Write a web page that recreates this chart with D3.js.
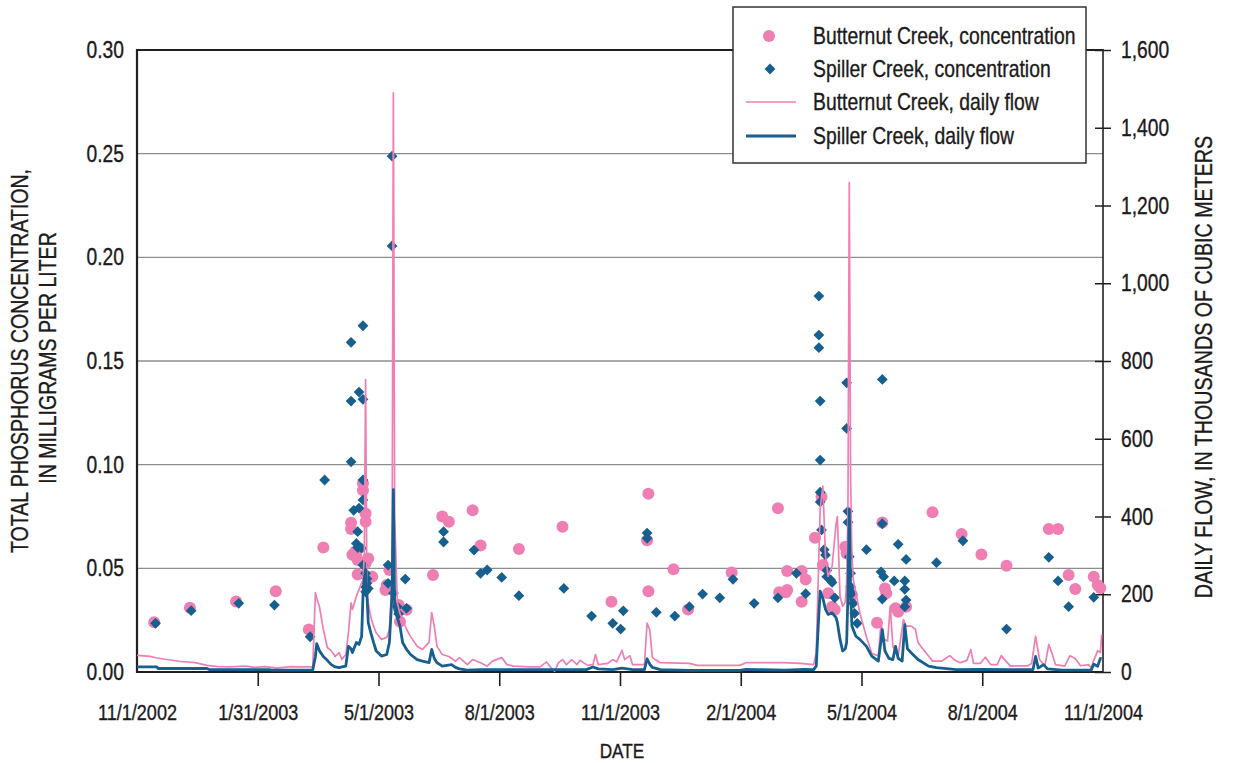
<!DOCTYPE html>
<html>
<head>
<meta charset="utf-8">
<script src="https://cdn.jsdelivr.net/npm/d3@7"></script>
<style>
  html, body { margin: 0; padding: 0; background: #fff; }
  svg { display: block; }
  text { font-family: "Liberation Sans", Arial, sans-serif; fill: #1d1a1b; stroke: #1d1a1b; stroke-width: 0.35px; }
</style>
</head>
<body>
<svg id="chart" width="1235" height="763"></svg>
<script>
// ---- Axis tick labels ----
const xTickLabels = ["11/1/2002", "1/31/2003", "5/1/2003", "8/1/2003", "11/1/2003",
                     "2/1/2004", "5/1/2004", "8/1/2004", "11/1/2004"];
const concTicks = [0, 0.05, 0.10, 0.15, 0.20, 0.25, 0.30];
const flowTicks = [0, 200, 400, 600, 800, 1000, 1200, 1400, 1600];

// ---- Total phosphorus samples, mg/L ----
const butternutConc = [
  ["2002-11-14", 0.024], ["2002-12-11", 0.031], ["2003-01-15", 0.034], ["2003-02-14", 0.039],
  ["2003-03-11", 0.0205], ["2003-03-22", 0.060], ["2003-04-12", 0.072], ["2003-04-12", 0.069],
  ["2003-04-13", 0.0565], ["2003-04-15", 0.058], ["2003-04-16", 0.0556], ["2003-04-17", 0.047],
  ["2003-04-17", 0.054], ["2003-04-21", 0.0877], ["2003-04-21", 0.091], ["2003-04-23", 0.0765],
  ["2003-04-23", 0.0725], ["2003-04-23", 0.0524], ["2003-04-25", 0.0548], ["2003-04-28", 0.046],
  ["2003-05-08", 0.0395], ["2003-05-09", 0.042], ["2003-05-11", 0.0492], ["2003-05-18", 0.0323],
  ["2003-05-19", 0.0243], ["2003-05-24", 0.030], ["2003-06-13", 0.0468], ["2003-06-20", 0.075],
  ["2003-06-25", 0.0725], ["2003-07-13", 0.078], ["2003-07-19", 0.061], ["2003-08-17", 0.0593],
  ["2003-09-19", 0.070], ["2003-10-26", 0.0339], ["2003-11-22", 0.0636], ["2003-11-23", 0.086],
  ["2003-11-23", 0.039], ["2003-12-12", 0.0495], ["2003-12-23", 0.0302], ["2004-01-25", 0.048],
  ["2004-02-29", 0.079], ["2004-03-01", 0.0385], ["2004-03-06", 0.0385], ["2004-03-07", 0.0487],
  ["2004-03-07", 0.0395], ["2004-03-18", 0.0487], ["2004-03-18", 0.0339], ["2004-03-21", 0.0446],
  ["2004-03-28", 0.0647], ["2004-04-02", 0.0845], ["2004-04-03", 0.0516], ["2004-04-07", 0.038],
  ["2004-04-10", 0.0315], ["2004-04-12", 0.030], ["2004-04-20", 0.0604], ["2004-04-21", 0.0572],
  ["2004-04-25", 0.0371], ["2004-05-14", 0.0237], ["2004-05-18", 0.0721], ["2004-05-20", 0.0403],
  ["2004-05-21", 0.038], ["2004-05-28", 0.0307], ["2004-05-30", 0.029], ["2004-06-05", 0.0315],
  ["2004-06-25", 0.077], ["2004-07-17", 0.0665], ["2004-08-01", 0.0567], ["2004-08-20", 0.0512],
  ["2004-09-21", 0.069], ["2004-09-28", 0.069], ["2004-10-06", 0.0468], ["2004-10-11", 0.040],
  ["2004-10-25", 0.046], ["2004-10-28", 0.042], ["2004-10-30", 0.0405]
];

const spillerConc = [
  ["2002-11-15", 0.0235], ["2002-12-12", 0.0296], ["2003-01-17", 0.0331], ["2003-02-13", 0.0323],
  ["2003-03-12", 0.017], ["2003-03-23", 0.0926], ["2003-04-12", 0.159], ["2003-04-12", 0.1307],
  ["2003-04-12", 0.1014], ["2003-04-14", 0.078], ["2003-04-16", 0.062], ["2003-04-17", 0.0677],
  ["2003-04-17", 0.060], ["2003-04-18", 0.135], ["2003-04-18", 0.079], ["2003-04-20", 0.0597],
  ["2003-04-21", 0.167], ["2003-04-21", 0.1315], ["2003-04-21", 0.0926], ["2003-04-21", 0.083],
  ["2003-04-21", 0.0516], ["2003-04-23", 0.0476], ["2003-04-23", 0.0387], ["2003-04-23", 0.041],
  ["2003-04-24", 0.045], ["2003-04-24", 0.0428], ["2003-04-25", 0.0403], ["2003-05-10", 0.0516],
  ["2003-05-10", 0.0428], ["2003-05-13", 0.2488], ["2003-05-13", 0.2055], ["2003-05-14", 0.038],
  ["2003-05-17", 0.0315], ["2003-05-18", 0.028], ["2003-05-23", 0.0448], ["2003-05-24", 0.0307],
  ["2003-06-21", 0.0677], ["2003-06-21", 0.0627], ["2003-07-14", 0.0588], ["2003-07-19", 0.0476],
  ["2003-07-24", 0.0492], ["2003-08-04", 0.0456], ["2003-08-17", 0.0368], ["2003-09-20", 0.0403],
  ["2003-10-11", 0.027], ["2003-10-27", 0.0235], ["2003-11-02", 0.0207], ["2003-11-04", 0.0295],
  ["2003-11-22", 0.067], ["2003-11-22", 0.0645], ["2003-11-29", 0.0288], ["2003-12-13", 0.027],
  ["2003-12-24", 0.0315], ["2004-01-03", 0.0376], ["2004-01-16", 0.0358], ["2004-01-26", 0.0447],
  ["2004-02-11", 0.0331], ["2004-02-29", 0.0358], ["2004-03-14", 0.0476], ["2004-03-21", 0.0378],
  ["2004-03-31", 0.1813], ["2004-03-31", 0.1625], ["2004-03-31", 0.1564], ["2004-04-01", 0.1307],
  ["2004-04-01", 0.1022], ["2004-04-01", 0.0867], ["2004-04-01", 0.082], ["2004-04-02", 0.0685],
  ["2004-04-04", 0.059], ["2004-04-05", 0.0564], ["2004-04-06", 0.049], ["2004-04-06", 0.046],
  ["2004-04-09", 0.0444], ["2004-04-10", 0.0432], ["2004-04-12", 0.0358], ["2004-04-21", 0.1395],
  ["2004-04-21", 0.1175], ["2004-04-22", 0.0775], ["2004-04-22", 0.0722], ["2004-04-23", 0.0556],
  ["2004-04-24", 0.0476], ["2004-04-24", 0.0411], ["2004-04-25", 0.038], ["2004-04-26", 0.0331],
  ["2004-04-27", 0.0283], ["2004-04-29", 0.0235], ["2004-05-06", 0.059], ["2004-05-17", 0.0483],
  ["2004-05-18", 0.1411], ["2004-05-18", 0.0715], ["2004-05-18", 0.0352], ["2004-05-19", 0.046],
  ["2004-05-27", 0.0439], ["2004-05-30", 0.0616], ["2004-06-04", 0.0439], ["2004-06-04", 0.0399],
  ["2004-06-04", 0.0315], ["2004-06-05", 0.0543], ["2004-06-05", 0.0347], ["2004-06-28", 0.0527],
  ["2004-07-18", 0.0633], ["2004-08-20", 0.0207], ["2004-09-21", 0.0553], ["2004-09-28", 0.0439],
  ["2004-10-06", 0.0315], ["2004-10-25", 0.036]
];

// ---- Daily flow, thousands of cubic meters ----
const butternutFlow = [
  ["2002-11-01", 43], ["2002-11-11", 40], ["2002-11-16", 36], ["2002-12-04", 27], ["2002-12-15", 24],
  ["2002-12-24", 17], ["2003-01-01", 14], ["2003-01-10", 13], ["2003-01-22", 15], ["2003-01-29", 12],
  ["2003-02-06", 14], ["2003-02-15", 10], ["2003-02-25", 14], ["2003-03-04", 13], ["2003-03-14", 13],
  ["2003-03-16", 204], ["2003-03-17", 190], ["2003-03-19", 169], ["2003-03-22", 110], ["2003-03-25", 63],
  ["2003-03-28", 55], ["2003-03-31", 40], ["2003-04-03", 50], ["2003-04-05", 32], ["2003-04-08", 45],
  ["2003-04-10", 101], ["2003-04-12", 178], ["2003-04-13", 161], ["2003-04-16", 195], ["2003-04-18", 212],
  ["2003-04-20", 230], ["2003-04-21", 235], ["2003-04-22", 300], ["2003-04-23", 752], ["2003-04-24", 200],
  ["2003-04-25", 178], ["2003-04-27", 140], ["2003-04-29", 118], ["2003-05-01", 101], ["2003-05-05", 84],
  ["2003-05-09", 89], ["2003-05-11", 109], ["2003-05-13", 230], ["2003-05-14", 1490], ["2003-05-15", 400],
  ["2003-05-17", 178], ["2003-05-19", 150], ["2003-05-21", 135], ["2003-05-24", 110], ["2003-05-27", 91],
  ["2003-06-01", 66], ["2003-06-05", 58], ["2003-06-10", 76], ["2003-06-12", 153], ["2003-06-14", 117],
  ["2003-06-16", 66], ["2003-06-20", 45], ["2003-06-25", 40], ["2003-06-30", 28], ["2003-07-03", 37],
  ["2003-07-09", 19], ["2003-07-13", 32], ["2003-07-19", 24], ["2003-07-24", 15], ["2003-07-28", 28],
  ["2003-08-04", 37], ["2003-08-08", 19], ["2003-08-13", 15], ["2003-08-25", 13], ["2003-09-02", 13],
  ["2003-09-07", 26], ["2003-09-10", 12], ["2003-09-13", 2], ["2003-09-16", 24], ["2003-09-19", 32],
  ["2003-09-22", 19], ["2003-09-26", 32], ["2003-09-30", 19], ["2003-10-02", 30], ["2003-10-08", 17],
  ["2003-10-12", 19], ["2003-10-14", 45], ["2003-10-16", 19], ["2003-10-23", 22], ["2003-10-27", 32],
  ["2003-10-30", 26], ["2003-11-03", 56], ["2003-11-05", 32], ["2003-11-09", 42], ["2003-11-11", 19],
  ["2003-11-20", 19], ["2003-11-22", 126], ["2003-11-24", 109], ["2003-11-26", 37], ["2003-12-02", 24],
  ["2003-12-24", 22], ["2003-12-30", 17], ["2004-01-31", 17], ["2004-02-05", 24], ["2004-02-28", 24],
  ["2004-03-04", 24], ["2004-03-17", 22], ["2004-03-27", 19], ["2004-03-29", 50], ["2004-03-31", 300],
  ["2004-04-01", 420], ["2004-04-03", 478], ["2004-04-05", 300], ["2004-04-07", 246], ["2004-04-10", 272],
  ["2004-04-13", 380], ["2004-04-14", 400], ["2004-04-16", 195], ["2004-04-18", 169], ["2004-04-20", 180],
  ["2004-04-21", 230], ["2004-04-22", 420], ["2004-04-23", 1259], ["2004-04-24", 500], ["2004-04-25", 300],
  ["2004-04-26", 238], ["2004-05-01", 152], ["2004-05-06", 90], ["2004-05-10", 48], ["2004-05-15", 41],
  ["2004-05-17", 127], ["2004-05-19", 84], ["2004-05-22", 80], ["2004-05-24", 169], ["2004-05-26", 66],
  ["2004-05-30", 41], ["2004-06-03", 135], ["2004-06-05", 118], ["2004-06-09", 118], ["2004-06-12", 110],
  ["2004-06-14", 76], ["2004-06-18", 58], ["2004-06-22", 41], ["2004-06-25", 28], ["2004-07-02", 28],
  ["2004-07-08", 42], ["2004-07-12", 30], ["2004-07-16", 24], ["2004-07-21", 30], ["2004-07-24", 58],
  ["2004-07-26", 22], ["2004-07-31", 22], ["2004-08-04", 38], ["2004-08-08", 19], ["2004-08-13", 19],
  ["2004-08-16", 42], ["2004-08-19", 30], ["2004-08-23", 15], ["2004-08-28", 16], ["2004-09-05", 16],
  ["2004-09-08", 22], ["2004-09-11", 92], ["2004-09-14", 32], ["2004-09-18", 15], ["2004-09-21", 71],
  ["2004-09-24", 42], ["2004-09-26", 19], ["2004-10-03", 15], ["2004-10-07", 42], ["2004-10-11", 35],
  ["2004-10-15", 16], ["2004-10-21", 19], ["2004-10-23", 11], ["2004-10-25", 30], ["2004-10-28", 55],
  ["2004-10-30", 50], ["2004-10-31", 96]
];

const spillerFlow = [
  ["2002-11-01", 13], ["2002-11-16", 13], ["2002-11-17", 9], ["2002-12-24", 9], ["2002-12-26", 6],
  ["2003-02-09", 6], ["2003-02-11", 5], ["2003-03-14", 5], ["2003-03-16", 40], ["2003-03-17", 73],
  ["2003-03-19", 55], ["2003-03-22", 40], ["2003-03-25", 30], ["2003-03-28", 19], ["2003-03-31", 13],
  ["2003-04-03", 11], ["2003-04-05", 13], ["2003-04-08", 15], ["2003-04-10", 66], ["2003-04-12", 60],
  ["2003-04-13", 50], ["2003-04-16", 76], ["2003-04-18", 71], ["2003-04-20", 92], ["2003-04-21", 195],
  ["2003-04-22", 240], ["2003-04-23", 264], ["2003-04-24", 200], ["2003-04-25", 127], ["2003-04-27", 100],
  ["2003-04-29", 76], ["2003-05-01", 54], ["2003-05-05", 41], ["2003-05-09", 45], ["2003-05-11", 76],
  ["2003-05-13", 200], ["2003-05-14", 469], ["2003-05-15", 161], ["2003-05-17", 140], ["2003-05-19", 118],
  ["2003-05-21", 76], ["2003-05-24", 58], ["2003-05-27", 45], ["2003-06-01", 32], ["2003-06-05", 28],
  ["2003-06-10", 24], ["2003-06-12", 58], ["2003-06-14", 35], ["2003-06-16", 24], ["2003-06-20", 15],
  ["2003-06-27", 19], ["2003-06-30", 12], ["2003-07-03", 8], ["2003-07-09", 5], ["2003-07-19", 6],
  ["2003-08-28", 6], ["2003-10-07", 6], ["2003-10-12", 13], ["2003-10-16", 8], ["2003-10-27", 6],
  ["2003-11-03", 10], ["2003-11-11", 6], ["2003-11-20", 6], ["2003-11-22", 34], ["2003-11-24", 20],
  ["2003-11-26", 12], ["2003-12-02", 6], ["2003-12-24", 4], ["2004-01-31", 4], ["2004-02-05", 7],
  ["2004-02-14", 6], ["2004-03-05", 5], ["2004-03-20", 7], ["2004-03-27", 6], ["2004-03-29", 15],
  ["2004-03-31", 150], ["2004-04-01", 208], ["2004-04-03", 190], ["2004-04-05", 161], ["2004-04-07", 148],
  ["2004-04-10", 152], ["2004-04-13", 140], ["2004-04-14", 127], ["2004-04-16", 84], ["2004-04-18", 54],
  ["2004-04-20", 60], ["2004-04-21", 76], ["2004-04-22", 200], ["2004-04-23", 418], ["2004-04-24", 200],
  ["2004-04-25", 118], ["2004-04-28", 92], ["2004-05-01", 84], ["2004-05-06", 66], ["2004-05-10", 41],
  ["2004-05-15", 28], ["2004-05-17", 80], ["2004-05-18", 109], ["2004-05-20", 54], ["2004-05-23", 35],
  ["2004-05-26", 32], ["2004-05-28", 66], ["2004-05-30", 35], ["2004-06-02", 28], ["2004-06-04", 122],
  ["2004-06-06", 60], ["2004-06-09", 49], ["2004-06-14", 32], ["2004-06-22", 15], ["2004-06-28", 11],
  ["2004-07-13", 6], ["2004-08-02", 7], ["2004-08-22", 6], ["2004-09-09", 6], ["2004-09-11", 40],
  ["2004-09-13", 10], ["2004-09-17", 19], ["2004-09-20", 8], ["2004-10-01", 5], ["2004-10-23", 5],
  ["2004-10-25", 20], ["2004-10-28", 15], ["2004-10-30", 35], ["2004-10-31", 35]
];

// ---- Styles ----
const PINK = "#ef7fb3";
const BLUE = "#175f8e";
const AXIS = "#231f20";
const GRID = "#8e8e8e";
const NARROW = 0.82;   // horizontal squeeze giving a narrow sans face

const parse = d3.utcParse("%Y-%m-%d");
const rows = arr => arr.map(([d, v]) => ({ date: parse(d), v }));

const svg = d3.select("#chart");
const W = 1235, H = 763;
const plot = { left: 137, right: 1103, top: 50, bottom: 672 };

const start = parse("2002-11-01"), end = parse("2004-11-01");
const x = d3.scaleUtc().domain([start, end]).range([plot.left, plot.right]);
const yConc = d3.scaleLinear().domain([0, 0.30]).range([plot.bottom, plot.top]);
const yFlow = d3.scaleLinear().domain([0, 1600]).range([plot.bottom, plot.top]);

// squeeze a tick label horizontally around its own anchor point
function narrowTicks(sel) {
  sel.each(function () {
    const t = d3.select(this);
    const tx = +t.attr("x") || 0;
    t.attr("x", tx / NARROW).attr("transform", `scale(${NARROW},1)`);
  });
}

svg.append("rect").attr("width", W).attr("height", H).attr("fill", "#fff");

// horizontal gridlines at the concentration ticks
svg.append("g").selectAll("line")
  .data(concTicks.filter(t => t > 0 && t < 0.30))
  .join("line")
  .attr("x1", plot.left).attr("x2", plot.right)
  .attr("y1", d => yConc(d)).attr("y2", d => yConc(d))
  .attr("stroke", GRID).attr("stroke-width", 1.4);

// x axis: quarterly ticks spaced evenly along the two-year record
const xTickVals = d3.range(xTickLabels.length)
  .map(i => new Date(+start + i * (end - start) / (xTickLabels.length - 1)));
const gx = svg.append("g")
  .attr("transform", `translate(0,${plot.bottom})`)
  .call(d3.axisBottom(x).tickValues(xTickVals)
    .tickFormat((d, i) => xTickLabels[i]).tickSize(14).tickPadding(18).tickSizeOuter(0));
gx.select(".domain").remove();
gx.selectAll(".tick line").attr("stroke", AXIS).attr("stroke-width", 1.6)
  .filter((d, i) => i === 0 || i === xTickLabels.length - 1).remove();
gx.selectAll(".tick text").attr("font-size", 22).call(narrowTicks);

// left axis (concentration)
const gl = svg.append("g")
  .attr("transform", `translate(${plot.left},0)`)
  .call(d3.axisLeft(yConc).tickValues(concTicks).tickFormat(d3.format(".2f"))
    .tickSize(0).tickPadding(13));
gl.select(".domain").remove();
gl.selectAll(".tick text").attr("font-size", 23.5).call(narrowTicks);

// right axis (flow), tick marks cross the axis line
const gr = svg.append("g")
  .attr("transform", `translate(${plot.right},0)`)
  .call(d3.axisRight(yFlow).tickValues(flowTicks).tickFormat(d3.format(","))
    .tickSize(8).tickPadding(10));
gr.select(".domain").remove();
gr.selectAll(".tick line").attr("x1", -8).attr("x2", 8).attr("stroke", AXIS).attr("stroke-width", 1.5);
gr.selectAll(".tick text").attr("font-size", 23.5).call(narrowTicks);

// plot frame
const frame = svg.append("g").attr("stroke", AXIS).attr("fill", "none");
frame.append("line").attr("x1", plot.left).attr("x2", plot.right)
  .attr("y1", plot.top).attr("y2", plot.top).attr("stroke-width", 2);
frame.append("line").attr("x1", plot.left).attr("x2", plot.left)
  .attr("y1", plot.top - 1).attr("y2", plot.bottom + 1).attr("stroke-width", 2.2);
frame.append("line").attr("x1", plot.right).attr("x2", plot.right)
  .attr("y1", plot.top - 1).attr("y2", plot.bottom + 1).attr("stroke-width", 1.6);
frame.append("line").attr("x1", plot.left - 1).attr("x2", plot.right)
  .attr("y1", plot.bottom).attr("y2", plot.bottom).attr("stroke-width", 2.2);

// concentration samples
svg.append("g").selectAll("circle")
  .data(rows(butternutConc)).join("circle")
  .attr("cx", d => x(d.date)).attr("cy", d => yConc(d.v))
  .attr("r", 6).attr("fill", PINK);

const diamond = d3.symbol().type(d3.symbolSquare).size(58);
svg.append("g").selectAll("path")
  .data(rows(spillerConc)).join("path")
  .attr("d", diamond)
  .attr("transform", d => `translate(${x(d.date)},${yConc(d.v)}) rotate(45)`)
  .attr("fill", BLUE);

// daily flow lines
const flowLine = d3.line().x(d => x(d.date)).y(d => yFlow(d.v));
svg.append("path").datum(rows(butternutFlow))
  .attr("d", flowLine).attr("fill", "none")
  .attr("stroke", PINK).attr("stroke-width", 1.7).attr("stroke-linejoin", "round");
svg.append("path").datum(rows(spillerFlow))
  .attr("d", flowLine).attr("fill", "none")
  .attr("stroke", BLUE).attr("stroke-width", 2.8).attr("stroke-linejoin", "round");

// axis titles
function title(tx, ty, angle, size, str) {
  svg.append("text")
    .attr("transform", `translate(${tx},${ty}) rotate(${angle}) scale(${NARROW},1)`)
    .attr("text-anchor", "middle").attr("font-size", size)
    .text(str);
}
title(28, 361, -90, 23.8, "TOTAL PHOSPHORUS CONCENTRATION,");
title(56, 358, -90, 23.8, "IN MILLIGRAMS PER LITER");
title(1212, 367, -90, 24, "DAILY FLOW, IN THOUSANDS OF CUBIC METERS");
title(622, 758, 0, 21, "DATE");

// legend
const legend = svg.append("g");
legend.append("rect")
  .attr("x", 733).attr("y", 7).attr("width", 353).attr("height", 156)
  .attr("fill", "#fff").attr("stroke", "#333").attr("stroke-width", 1.5);
const legendItems = [
  { label: "Butternut Creek, concentration", kind: "circle" },
  { label: "Spiller Creek, concentration", kind: "diamond" },
  { label: "Butternut Creek, daily flow", kind: "pinkLine" },
  { label: "Spiller Creek, daily flow", kind: "blueLine" }
];
const legendY = [36, 69, 102, 136];
legendItems.forEach((item, i) => {
  const cy = legendY[i];
  if (item.kind === "circle") {
    legend.append("circle").attr("cx", 769).attr("cy", cy).attr("r", 6).attr("fill", PINK);
  } else if (item.kind === "diamond") {
    legend.append("path").attr("d", diamond)
      .attr("transform", `translate(770,${cy}) rotate(45)`).attr("fill", BLUE);
  } else {
    legend.append("line").attr("x1", 746).attr("x2", 796).attr("y1", cy).attr("y2", cy)
      .attr("stroke", item.kind === "pinkLine" ? PINK : BLUE)
      .attr("stroke-width", item.kind === "pinkLine" ? 1.7 : 2.8);
  }
  legend.append("text")
    .attr("transform", `translate(813,${cy + 8}) scale(${NARROW},1)`)
    .attr("font-size", 23.6).text(item.label);
});
</script>
</body>
</html>
